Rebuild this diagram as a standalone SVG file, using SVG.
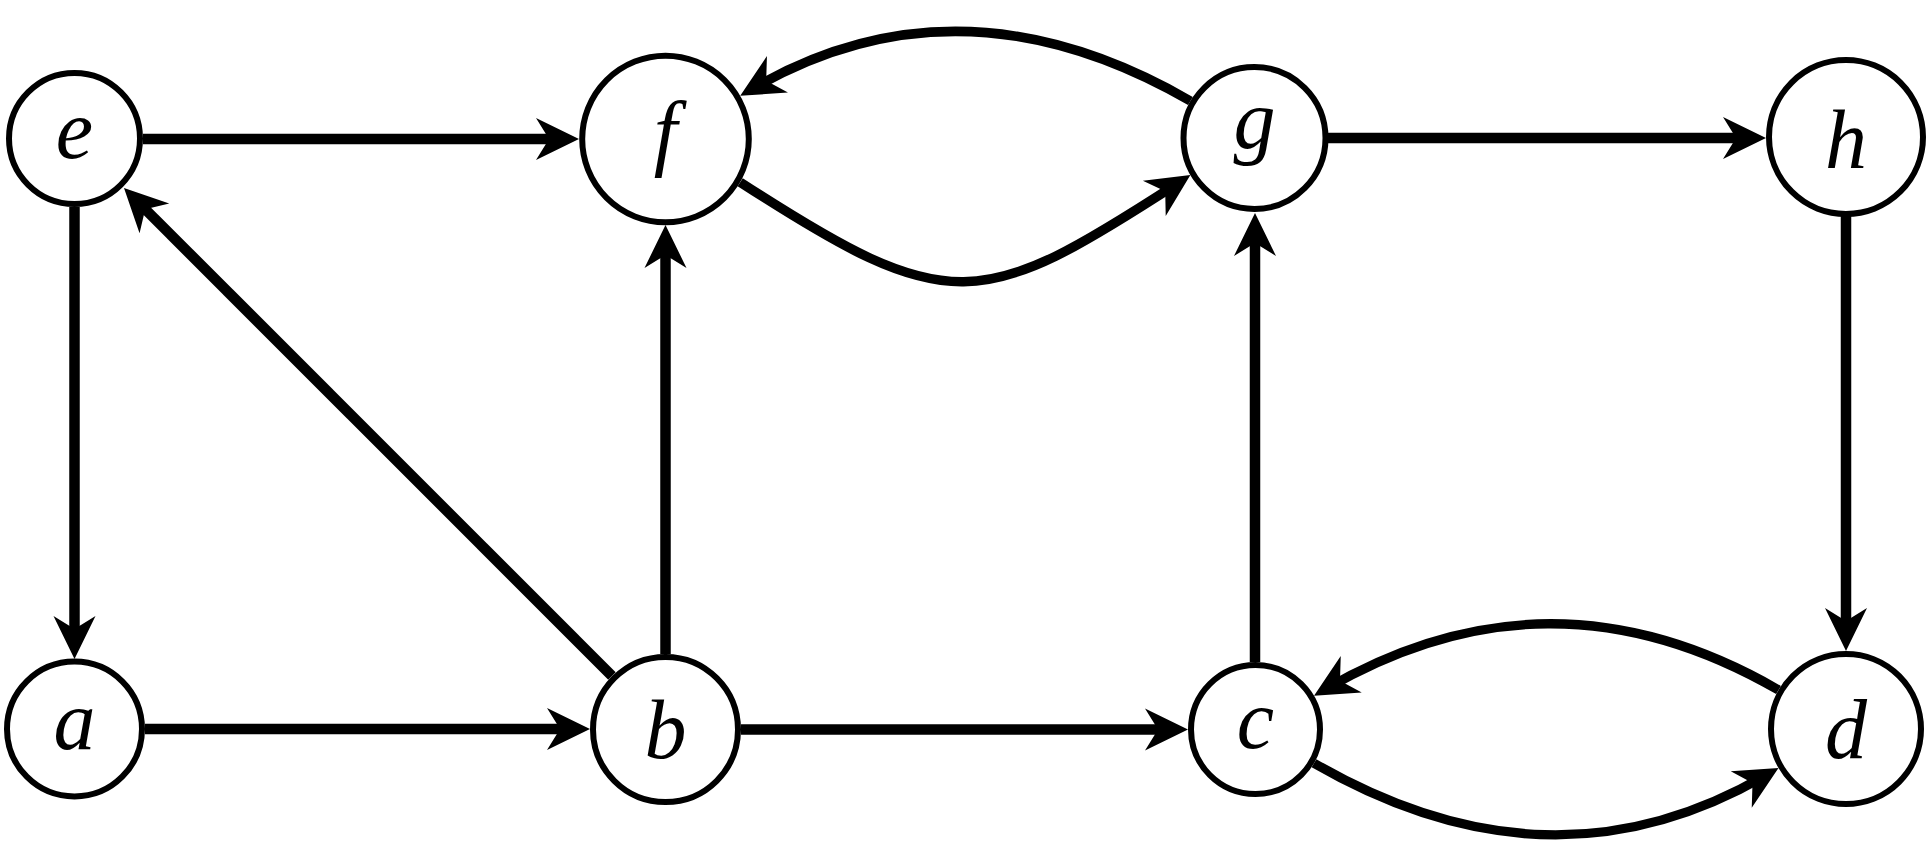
<svg xmlns="http://www.w3.org/2000/svg" width="1930" height="867" viewBox="0 0 1930 867">
<style>
.node circle{fill:#fff;stroke:#000;stroke-width:6}
.node text{font-family:"Liberation Serif","DejaVu Serif",serif;font-style:italic;font-size:84px;text-anchor:middle;fill:#000}
.edge{fill:none;stroke:#000;stroke-width:10.5;marker-end:url(#arr)}
.bend{stroke-width:9.5}
</style>
<defs>
<marker id="arr" markerUnits="userSpaceOnUse" viewBox="-30 -22 46 44" refX="0" refY="0" markerWidth="46" markerHeight="44" orient="auto">
<path d="M15,0 L-28,-21 L-15,0 L-28,21 Z" fill="#000"/>
</marker>
</defs>
<rect width="1930" height="867" fill="#fff"/>
<g id="nodes">
<g id="node-e" class="node"><circle cx="74.5" cy="138.5" r="65.5"/><text x="74.5" y="158">e</text></g>
<g id="node-f" class="node"><circle cx="665.5" cy="139" r="83.3"/><text x="665.5" y="160">f</text></g>
<g id="node-g" class="node"><circle cx="1254.5" cy="138" r="71"/><text x="1254.5" y="148">g</text></g>
<g id="node-h" class="node"><circle cx="1846" cy="137" r="77"/><text x="1846" y="168">h</text></g>
<g id="node-a" class="node"><circle cx="74.5" cy="729" r="67.5"/><text x="74.5" y="749">a</text></g>
<g id="node-b" class="node"><circle cx="665.5" cy="729.5" r="72.5"/><text x="665.5" y="758">b</text></g>
<g id="node-c" class="node"><circle cx="1255.5" cy="729.5" r="64.5"/><text x="1255.5" y="748">c</text></g>
<g id="node-d" class="node"><circle cx="1846" cy="729" r="75"/><text x="1846" y="758">d</text></g>
</g>
<g id="connectors">
<path class="edge" d="M143,139 H564"/>
<path class="edge" d="M1328,138 H1751"/>
<path class="edge" d="M145,729 H575"/>
<path class="edge" d="M741,729.5 H1173"/>
<path class="edge" d="M74.5,207 V644"/>
<path class="edge" d="M1846,215 V636"/>
<path class="edge" d="M665.5,654 V240"/>
<path class="edge" d="M1255,662 V228"/>
<path class="edge" d="M612,676 L134.6,198.6"/>
<path class="edge bend" d="M1190.4,101 C1038,13 892.6,7.8 753.2,88.3"/>
<path class="edge bend" d="M740.2,182.2 C949.9,318.4 980.3,311.2 1177.8,183.2"/>
<path class="edge bend" d="M1778.5,690 C1621,599 1471.5,604.8 1327,688.25"/>
<path class="edge bend" d="M1314,763.25 C1471.6,854.25 1620.9,859 1765.5,775.5"/>
</g>
</svg>
